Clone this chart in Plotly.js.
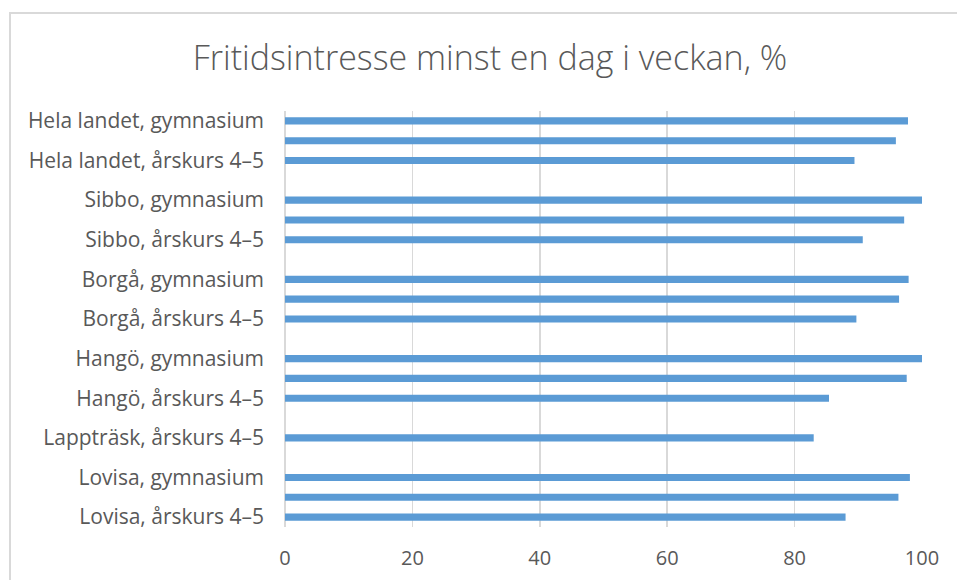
<!DOCTYPE html>
<html>
<head>
<meta charset="utf-8">
<script src="https://cdn.plot.ly/plotly-3.0.1.min.js"></script>
<style>
  html, body { margin: 0; padding: 0; background: #ffffff; overflow: hidden; }
  #frame { position: absolute; left: 9px; top: 12px; width: 1100px; height: 800px; border: 2px solid #d9d9d9; box-sizing: border-box; }
  #chart { position: absolute; left: 0; top: 0; width: 957px; height: 580px; }
</style>
</head>
<body>
<div id="frame"></div>
<div id="chart"></div>
<script>
// Categories listed from top to bottom
const categories = [
  "Hela landet, gymnasium", "Hela landet, årskurs 8–9", "Hela landet, årskurs 4–5", " 1",
  "Sibbo, gymnasium", "Sibbo, årskurs 8–9", "Sibbo, årskurs 4–5", " 2",
  "Borgå, gymnasium", "Borgå, årskurs 8–9", "Borgå, årskurs 4–5", " 3",
  "Hangö, gymnasium", "Hangö, årskurs 8–9", "Hangö, årskurs 4–5", " 4",
  "Lappträsk, årskurs 4–5", " 5",
  "Lovisa, gymnasium", "Lovisa, årskurs 8–9", "Lovisa, årskurs 4–5"
];
const values = [
  97.8, 95.9, 89.4, null,
  100, 97.2, 90.7, null,
  97.9, 96.4, 89.7, null,
  100, 97.6, 85.4, null,
  83.0, null,
  98.1, 96.3, 88.0
];
const shownLabels = [
  "Hela landet, gymnasium", "Hela landet, årskurs 4–5",
  "Sibbo, gymnasium", "Sibbo, årskurs 4–5",
  "Borgå, gymnasium", "Borgå, årskurs 4–5",
  "Hangö, gymnasium", "Hangö, årskurs 4–5",
  "Lappträsk, årskurs 4–5",
  "Lovisa, gymnasium", "Lovisa, årskurs 4–5"
];
const xTicks = [0, 20, 40, 60, 80, 100];

const textColor = "#595959";
const fontFam = "'Open Sans', 'Noto Sans', 'Liberation Sans', sans-serif";

const trace = {
  type: "bar",
  orientation: "h",
  y: categories,
  x: values,
  marker: { color: "#5b9bd5" },
  hoverinfo: "x+y"
};

const layout = {
  width: 957,
  height: 580,
  paper_bgcolor: "rgba(0,0,0,0)",
  plot_bgcolor: "rgba(0,0,0,0)",
  margin: { l: 285, r: 35, t: 111, b: 53 },
  bargap: 0.64,
  showlegend: false,
  title: {
    text: "Fritidsintresse minst en dag i veckan, %",
    font: { family: fontFam, size: 34, color: textColor, weight: 300 },
    x: 0.512, xanchor: "center",
    y: 0.9, yanchor: "middle", yref: "container"
  },
  xaxis: {
    range: [0, 100],
    tickvals: xTicks,
    ticktext: xTicks.map(String),
    showgrid: true,
    gridcolor: "#d9d9d9",
    gridwidth: 1.5,
    zeroline: true,
    zerolinecolor: "#d9d9d9",
    zerolinewidth: 1.5,
    showline: false,
    ticks: "",
    ticklabelstandoff: 17,
    tickfont: { family: fontFam, size: 20, color: textColor },
    fixedrange: true
  },
  yaxis: {
    type: "category",
    categoryorder: "array",
    categoryarray: categories,
    autorange: "reversed",
    tickvals: shownLabels,
    ticktext: shownLabels,
    showgrid: false,
    zeroline: false,
    showline: false,
    ticks: "",
    ticklabelstandoff: 20,
    tickfont: { family: fontFam, size: 21, color: textColor },
    fixedrange: true
  }
};

Plotly.newPlot("chart", [trace], layout, { displayModeBar: false, staticPlot: true });
</script>
</body>
</html>
